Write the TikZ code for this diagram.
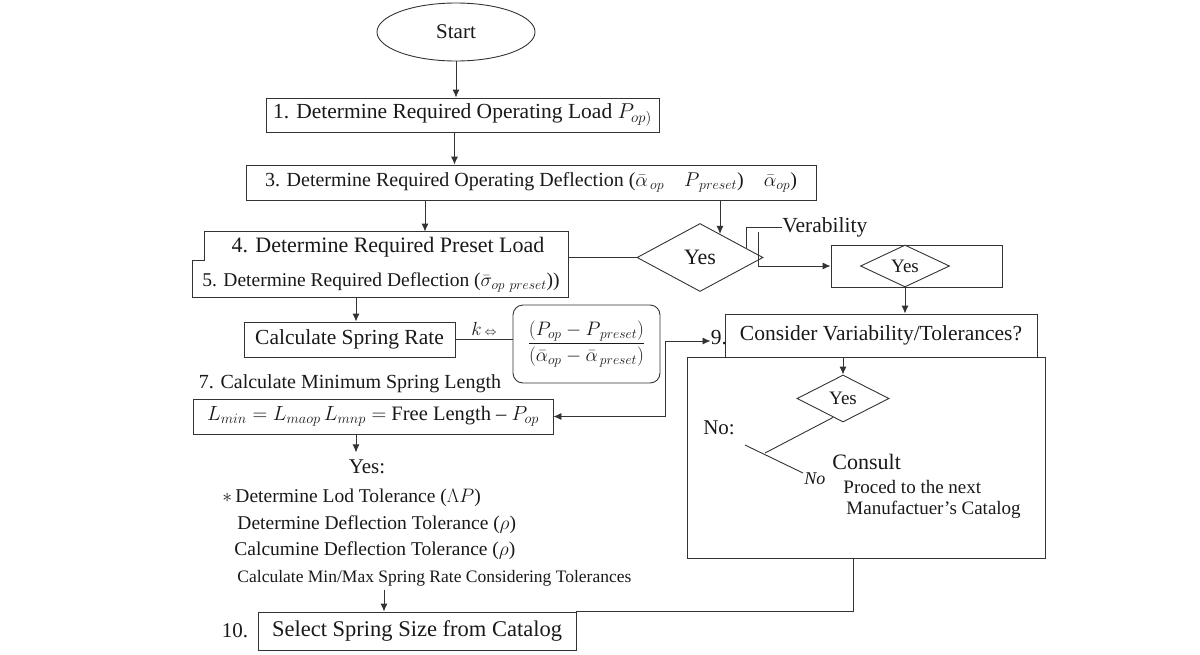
\documentclass[tikz,border=0pt]{standalone}
\usepackage{fix-cm}
\usepackage{amsmath}
\usepackage{fontspec}
\setmainfont{Liberation Serif}
\usetikzlibrary{shapes.geometric,arrows.meta,positioning}

\newcommand{\sz}[1]{\fontsize{#1}{#1}\selectfont}
\tikzset{
  box/.style={draw, inner sep=2pt},
  dia/.style={draw, diamond, inner sep=0pt},
  arr/.style={-{Latex[length=8pt,width=7pt]}},
  txt/.style={anchor=west, inner sep=0pt},
}

\begin{document}
\begin{tikzpicture}[x=1pt,y=-1pt,line width=0.9pt,draw=black!80,text=black!90]
    \useasboundingbox (0,0) rectangle (1200,654);
    % top of the chart
    \node[ellipse, box, minimum width=158, minimum height=58, font=\sz{21}] (st) at (456,32) {Start};
    \node[box, minimum width=393, minimum height=34, font=\sz{21.5}] (s1) at (462.5,115) {1. Determine Required Operating Load $P_{op)}$};
    \node[box, minimum width=570, minimum height=35, font=\sz{20}] (s3) at (531,182.5) {3. Determine Required Operating Deflection ($\bar{\alpha}_{\,op}$\quad$P_{\,preset}$)\quad$\bar{\alpha}_{op}$)};
    \draw[arr] (st.south) -- (st.south |- s1.north);
    \draw[arr] ([xshift=-8pt]s1.south) -- ([xshift=-8pt]s1.south |- s3.north);

    % steps 4 and 5
    \node[minimum width=375, minimum height=65, inner sep=0] (s45) at (380.5,264.5) {};
    \draw ([xshift=12pt]s45.north west) -- (s45.north east) -- (s45.south east) -- (s45.south west)
        -- ([yshift=37pt]s45.south west) -- ([shift={(12pt,37pt)}]s45.south west) -- cycle;
    \node[font=\sz{22}] (s4) at (388,247) {4. Determine Required Preset Load};
    \node[font=\sz{19.5}] (s5) at (381,282) {5. Determine Required Deflection ($\bar{\sigma}_{op\ preset}$))};
    \draw[arr] ([xshift=-106pt]s3.south) -- ([xshift=-106pt]s3.south |- s45.north);

    \node[dia, minimum width=126, minimum height=68, font=\sz{22}] (d1) at (700,257.5) {Yes};
    \draw[arr] ([xshift=189pt]s3.south) -- ++(0,33.5);
    \draw (s45.east |- d1.west) -- (d1.west);
    \node[txt, font=\sz{21.5}] (ver) at (782,227) {Verability};
    \draw ([shift={(46pt,10pt)}]d1.center) |- (ver.west);
    \coordinate (vt) at (758,232);

    \node[box, minimum width=171, minimum height=42] (yb) at (916.5,266) {};
    \node[dia, minimum width=89, minimum height=42, font=\sz{19}] (yd) at (905,266) {Yes};
    \draw[arr] (vt) |- (yb.west);

    % step 9
    \node[box, minimum width=312, minimum height=43, font=\sz{21.5}] (s9) at (881,335.5) {Consider Variability/Tolerances?};
    \node[anchor=east, inner sep=0, font=\sz{21.5}] (n9) at ([xshift=3pt,yshift=-2pt]s9.west) {9.};
    \draw[arr] (yd.south) -- (yd.south |- s9.north);

    \node[box, minimum width=358, minimum height=201] (bg) at (866,457.5) {};
    \node[dia, minimum width=92, minimum height=47, font=\sz{19}] (d2) at (843,398.5) {Yes};
    \draw[arr] (d2.north |- bg.north) -- (d2.north);
    \node[font=\sz{21}] (no1) at (719,428) {No:};
    \coordinate (fk) at (765,453);
    \coordinate (na) at (745,445);
    \coordinate (nb) at (803,473);
    \draw ([shift={(-10pt,5pt)}]d2.south) -- (fk);
    \draw (na) -- (nb);
    \node[txt, font=\itshape\sz{18}] (no2) at (804,479) {No};
    \node[txt, font=\sz{22}] (cs) at (832,462) {Consult};
    \node[txt, font=\sz{19}] (pr) at (843,487) {Proced to the next};
    \node[txt, font=\sz{19}] (mc) at (846,510) {Manufactuer's Catalog};

    % spring rate and length
    \node[box, minimum width=211, minimum height=35, font=\sz{21.5}] (cr) at (349.5,339.5) {Calculate Spring Rate};
    \draw[arr] ([xshift=6.5pt]cr.north |- s45.south) -- ([xshift=6.5pt]cr.north);
    \node[box, rounded corners=10pt, minimum width=147, minimum height=78, font=\sz{19.5}] (fr) at (586.5,344)
        {$\dfrac{(P_{op}-P_{\,preset})}{(\bar{\alpha}_{op}-\bar{\alpha}_{\,preset})}$};
    \draw (cr.east) -- (cr.east -| fr.west) node[midway, above, font=\sz{19}] {$k$\,{\sz{12}$\Leftrightarrow$}};

    \node[font=\sz{20}] (s7) at (350,384) {7. Calculate Minimum Spring Length};
    \node[box, minimum width=360, minimum height=35, font=\sz{20.5}] (lm) at (373,416.5) {$L_{min} = L_{maop}\, L_{mnp} =$ Free Length -- $P_{op}$};
    \coordinate (tj) at (665,341);
    \draw[arr] (tj) -- (tj -| n9.west);
    \draw[arr] (tj) |- (lm.east);
    \draw[arr] ([xshift=-17pt]lm.south) -- ++(0,18);

    % tolerances
    \node[font=\sz{21}] (ys) at (367,467) {Yes:};
    \node[txt, font=\sz{19.5}] (t1) at (222,498) {$\ast$\,Determine Lod Tolerance ($\Lambda P$)};
    \node[txt, font=\sz{19.5}] (t2) at (237,525) {Determine Deflection Tolerance ($\rho$)};
    \node[txt, font=\sz{19.5}] (t3) at (234,551) {Calcumine Deflection Tolerance ($\rho$)};
    \node[txt, font=\sz{17.5}] (t4) at (237,578) {Calculate Min/Max Spring Rate Considering Tolerances};

    % step 10
    \node[box, minimum width=318, minimum height=38, font=\sz{22.5}] (sel) at (417,631) {Select Spring Size from Catalog};
    \node[anchor=east, font=\sz{21}] (n10) at (252,631) {10.};
    \draw[arr] ([shift={(-33pt,22pt)}]sel.north) -- ([xshift=-33pt]sel.north);
    \draw ([xshift=-13pt]bg.south) |- (sel.north east);
\end{tikzpicture}
\end{document}
